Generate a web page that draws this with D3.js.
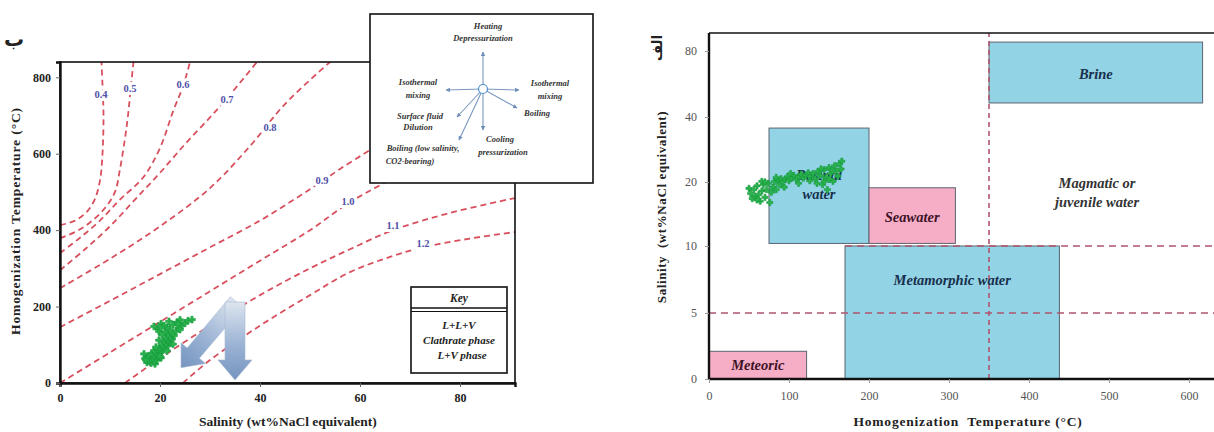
<!DOCTYPE html>
<html><head><meta charset="utf-8">
<script src="https://cdn.jsdelivr.net/npm/d3@7"></script>
<style>body{margin:0;background:#fff} svg{display:block}</style>
</head><body>
<script>
// ---------- DATA ----------
const leftXTicks = [0, 20, 40, 60, 80];
const leftYTicks = [0, 200, 400, 600, 800];
const rightXTicks = [0, 100, 200, 300, 400, 500, 600];
const rightYTicks = [0, 5, 10, 20, 40, 80];

const isoLabels = ["0.4", "0.5", "0.6", "0.7", "0.8", "0.9", "1.0", "1.1", "1.2"];
// isodensity curves: [salinity, temperature]
const isoCurves = [
  [[0,413],[3,425],[5.5,450],[7,482],[8,530],[8.5,600],[8.7,700],[8.5,780],[8.3,840]],
  [[0,379],[3,395],[6,420],[9,458],[11,500],[12,560],[13,640],[13.6,700],[14.1,766],[14.7,840]],
  [[0,340],[4,380],[8,425],[12,480],[16.7,539],[20,615],[22.7,714],[24.6,776],[26,840]],
  [[0,295],[5,350],[10,410],[15,480],[20,550],[25,625],[30,695],[33.4,745],[39.4,840]],
  [[0,248],[10,325],[20,410],[30,510],[38,620],[45,730],[54,840]],
  [[0,146],[10,215],[20,285],[30,355],[40,425],[48,490],[52.4,528],[56,560],[62,610],[70,680]],
  [[0,0],[10,80],[20,160],[30,240],[40,320],[50,400],[57.6,470],[65,525],[75,600]],
  [[13,0],[20,65],[30,150],[40,230],[50,300],[58,350],[66.6,400],[78,445],[91,484]],
  [[24.6,0],[30,60],[40,150],[50,230],[58,290],[66,330],[72.6,355],[82,378],[91,395]]
];
const isoLabelPos = [[8.2,752],[14,768],[24.6,778],[33.4,740],[42,667],[52.4,528],[57.6,473],[66.6,408],[72.6,361]];

// fluid inclusions: [homogenization temperature °C, salinity wt% NaCl eq.]
const inclusions = [
  [50,19.0],[52,18.2],[54,17.4],[56,18.8],[58,17.8],[60,19.4],[62,18.0],[64,17.0],[66,18.6],[68,19.6],
  [70,17.6],[72,18.8],[74,19.8],[76,16.8],[78,18.4],[80,19.2],[82,20.2],[84,18.8],[86,20.6],[88,19.6],
  [90,21.0],[92,20.0],[95,20.8],[98,21.6],[100,20.4],[103,21.2],[106,22.0],[109,20.8],[112,21.6],[115,22.4],
  [118,21.2],[121,22.0],[124,22.8],[127,21.6],[130,22.6],[133,21.0],[136,23.2],[139,22.0],[142,19.6],[144,23.8],
  [146,21.4],[148,18.8],[150,24.4],[152,22.6],[155,20.2],[157,25.0],[159,23.4],[161,21.8],[163,25.6],[165,24.0],
  [166,26.4],[140,24.0],[135,19.8],[60,17.2],[66,20.2],[94,19.2],[102,22.6],[112,19.8],[126,20.4],[150,20.8],
  [154,23.6],[144,20.2],[70,20.0],[84,21.4]
];

// trend arrows (left panel): [salinity, temperature] tail -> tip
const trendArrows = [
  {tail:[35.3,212], tip:[24.2,40]},
  {tail:[35.0,212], tip:[35.0,8]}
];

// fluid fields (right panel): temperature range, salinity range
const fields = [
  {name:["Meteoric"], t:[0,122], s:[0,2.1], kind:"pink", label:[61,1.05]},
  {name:["Basinal","water"], t:[75,200], s:[10.4,36.6], kind:"blue", label:[137.5,19.6]},
  {name:["Seawater"], t:[200,308], s:[10.4,19.1], kind:"pink", label:[254,14.5]},
  {name:["Brine"], t:[350,617], s:[48.5,85.4], kind:"blue", label:[483.5,66]},
  {name:["Metamorphic water"], t:[170,438], s:[0,10], kind:"blue", label:[304,7.5]}
];
const fieldText = {name:["Magmatic or","juvenile water"], label:[485,18.4]};
const dashedT = [{t:350, s:[0,91]}];
const dashedS = [{s:5, t:[0,640]}, {s:10, t:[170,640]}];

// ---------- DRAW ----------
const W = 1214, H = 432;
const svg = d3.select("body").append("svg").attr("width", W).attr("height", H);
const serif = "Liberation Serif, Times New Roman, DejaVu Serif, serif";
const defs = svg.append("defs");

// ===== LEFT PANEL =====
const L = {x0:60, x1:515, y0:62, y1:383};
const xL = d3.scaleLinear().domain([0,91]).range([L.x0, L.x1]);
const yL = d3.scaleLinear().domain([0,840]).range([L.y1, L.y0]);

defs.append("clipPath").attr("id","clipL").append("rect")
  .attr("x",L.x0).attr("y",L.y0).attr("width",L.x1-L.x0).attr("height",L.y1-L.y0);

const gL = svg.append("g");
const curveGen = d3.line().x(d=>xL(d[0])).y(d=>yL(d[1])).curve(d3.curveCatmullRom.alpha(0.5));
gL.append("g").attr("clip-path","url(#clipL)").selectAll("path").data(isoCurves).join("path")
  .attr("d", curveGen).attr("fill","none").attr("stroke","#d8505e").attr("stroke-width",1.8)
  .attr("stroke-dasharray","6,4");

gL.selectAll("text.iso").data(isoLabels).join("text").attr("class","iso")
  .attr("x",(d,i)=>xL(isoLabelPos[i][0])).attr("y",(d,i)=>yL(isoLabelPos[i][1]))
  .attr("text-anchor","middle").attr("dominant-baseline","middle")
  .style("font-family",serif).attr("font-size",10.5).attr("font-weight","bold")
  .attr("fill","#5050a8").attr("stroke","#fff").attr("stroke-width",6)
  .attr("paint-order","stroke").text(d=>d);

// arrows
function arrowPath(p0, p1, sw, hw, hl){
  const dx=p1[0]-p0[0], dy=p1[1]-p0[1], len=Math.hypot(dx,dy);
  const ux=dx/len, uy=dy/len, nx=-uy, ny=ux;
  const bx=p1[0]-ux*hl, by=p1[1]-uy*hl;
  const pts=[[p0[0]+nx*sw,p0[1]+ny*sw],[bx+nx*sw,by+ny*sw],[bx+nx*hw,by+ny*hw],p1,
    [bx-nx*hw,by-ny*hw],[bx-nx*sw,by-ny*sw],[p0[0]-nx*sw,p0[1]-ny*sw]];
  return "M"+pts.map(p=>p.join(",")).join("L")+"Z";
}
trendArrows.forEach((a,i)=>{
  const p0=[xL(a.tail[0]),yL(a.tail[1])], p1=[xL(a.tip[0]),yL(a.tip[1])];
  const g = defs.append("linearGradient").attr("id","ag"+i).attr("gradientUnits","userSpaceOnUse")
    .attr("x1",p0[0]).attr("y1",p0[1]).attr("x2",p1[0]).attr("y2",p1[1]);
  g.append("stop").attr("offset","0").attr("stop-color","#dde5ef");
  g.append("stop").attr("offset","0.55").attr("stop-color","#9bb3d4");
  g.append("stop").attr("offset","1").attr("stop-color","#7594bf");
  gL.append("path").attr("d",arrowPath(p0,p1,i?10:8,i?17:16,i?20:19))
    .attr("fill","url(#ag"+i+")").attr("stroke","#a9bbd3").attr("stroke-width",0.6);
});

// inclusions left
gL.selectAll("path.incl").data(inclusions).join("path").attr("class","incl")
  .attr("transform",d=>`translate(${xL(d[1])},${yL(d[0])})`)
  .attr("d",d3.symbol(d3.symbolCross,26)).attr("fill","#2ab24e").attr("stroke","#12973a").attr("stroke-width",0.5);

// frame and axes
gL.append("rect").attr("x",L.x0).attr("y",L.y0).attr("width",L.x1-L.x0).attr("height",L.y1-L.y0)
  .attr("fill","none").attr("stroke","#111").attr("stroke-width",1.6);
const axL = gL.append("g").attr("transform",`translate(0,${L.y1})`)
  .call(d3.axisBottom(xL).tickValues(leftXTicks).tickSize(4).tickPadding(6));
const ayL = gL.append("g").attr("transform",`translate(${L.x0},0)`)
  .call(d3.axisLeft(yL).tickValues(leftYTicks).tickSize(4).tickPadding(5));
[axL,ayL].forEach(a=>{
  a.select(".domain").attr("stroke","#111").attr("stroke-width",2.4);
  a.selectAll(".tick line").attr("stroke","#666");
  a.selectAll("text").style("font-family",serif).attr("font-size",12).attr("font-weight","bold").attr("fill","#222");
});
gL.append("text").attr("x",288).attr("y",426).attr("text-anchor","middle")
  .style("font-family",serif).attr("font-size",13.5).attr("font-weight","bold").attr("fill","#222")
  .text("Salinity (wt%NaCl equivalent)");
gL.append("text").attr("transform","translate(20,221) rotate(-90)").attr("text-anchor","middle")
  .style("font-family",serif).attr("font-size",13.5).attr("font-weight","bold").attr("fill","#222")
  .attr("letter-spacing",0.9)
  .text("Homogenization Temperature (°C)");
gL.append("text").attr("x",14).attr("y",46).attr("text-anchor","middle")
  .style("font-family","DejaVu Sans, sans-serif").attr("font-size",20).attr("font-weight","bold").attr("fill","#222").text("ب");

// key box
const key = gL.append("g").attr("transform","translate(411,287)");
key.append("rect").attr("width",96).attr("height",86).attr("fill","#fff").attr("stroke","#111").attr("stroke-width",1.6);
key.append("line").attr("x1",0).attr("x2",96).attr("y1",21).attr("y2",21).attr("stroke","#111").attr("stroke-width",1.4);
key.append("line").attr("x1",0).attr("x2",96).attr("y1",24.5).attr("y2",24.5).attr("stroke","#111").attr("stroke-width",1.2);
key.append("text").attr("x",48).attr("y",15).attr("text-anchor","middle").style("font-family",serif)
  .attr("font-size",11.5).attr("font-weight","bold").attr("font-style","italic").attr("fill","#222").text("Key");
[["L+L+V",42],["Clathrate phase",57],["L+V phase",72]].forEach(([t,y],i)=>{
  key.append("text").attr("x",i==2?51:48).attr("y",y).attr("text-anchor","middle").style("font-family",serif)
    .attr("font-size",11).attr("font-weight","bold").attr("font-style","italic").attr("fill","#222").text(t);
});

// inset (process diagram)
const ins = svg.append("g").attr("transform","translate(370,14)");
ins.append("rect").attr("width",223).attr("height",169).attr("fill","#fff").attr("stroke","#111").attr("stroke-width",1.6);
const c=[113,75];
const rays=[[113,38],[76,76],[149,76],[113,116],[147,94],[87,103],[89,126]];
const mk = defs.append("marker").attr("id","ah").attr("viewBox","0 0 10 10").attr("refX",9).attr("refY",5)
  .attr("markerWidth",4).attr("markerHeight",4).attr("orient","auto");
mk.append("path").attr("d","M0,0L10,5L0,10Z").attr("fill","#6f8fb8");
ins.selectAll("line.ray").data(rays).join("line").attr("class","ray")
  .attr("x1",c[0]).attr("y1",c[1]).attr("x2",d=>d[0]).attr("y2",d=>d[1])
  .attr("stroke","#7a98c0").attr("stroke-width",1.1).attr("marker-end","url(#ah)");
ins.append("circle").attr("cx",c[0]).attr("cy",c[1]).attr("r",4.5).attr("fill","#fff").attr("stroke","#4f8fd0").attr("stroke-width",1.2);
const insT=[["Heating",118,13],["Depressurization",113,25],["Isothermal",48,69],["mixing",48,82],
  ["Isothermal",180,70],["mixing",180,83],["Boiling",167,100],["Surface fluid",50,103],["Dilution",48,114],
  ["Cooling",130,126],["pressurization",133,139],["Boiling (low salinity,",53,135],["CO2-bearing)",40,148]];
ins.selectAll("text").data(insT).join("text").attr("x",d=>d[1]).attr("y",d=>d[2])
  .attr("text-anchor","middle").attr("dominant-baseline","middle").style("font-family",serif)
  .attr("font-size",8.5).attr("font-style","italic").attr("font-weight","bold").attr("fill","#333").text(d=>d[0]);

// ===== RIGHT PANEL =====
const R = {x0:709, x1:1216, y0:33, y1:379};
const xR = d3.scaleLinear().domain([0,634]).range([R.x0, R.x0+634*0.8]);
const yR = d3.scaleLinear().domain(rightYTicks).range([379,313,246,182,117,51]);
const gR = svg.append("g");
const fillC = {pink:"#f6adc6", blue:"#93d3e6"};
const textC = {pink:"#3d1426", blue:"#17304c"};
gR.selectAll("rect.field").data(fields).join("rect").attr("class","field")
  .attr("x",d=>xR(d.t[0])).attr("width",d=>xR(d.t[1])-xR(d.t[0]))
  .attr("y",d=>yR(d.s[1])).attr("height",d=>yR(d.s[0])-yR(d.s[1]))
  .attr("fill",d=>fillC[d.kind]).attr("stroke","#5a6570").attr("stroke-width",1);

gR.selectAll("line.dt").data(dashedT).join("line").attr("class","dt")
  .attr("x1",d=>xR(d.t)).attr("x2",d=>xR(d.t)).attr("y1",d=>yR(d.s[0])).attr("y2",R.y0)
  .attr("stroke","#b0556e").attr("stroke-width",1.6).attr("stroke-dasharray","5,4");
gR.selectAll("line.ds").data(dashedS).join("line").attr("class","ds")
  .attr("x1",d=>xR(d.t[0])).attr("x2",d=>xR(d.t[1])).attr("y1",d=>yR(d.s)).attr("y2",d=>yR(d.s))
  .attr("stroke","#b0556e").attr("stroke-width",1.6).attr("stroke-dasharray","7,5");

fields.concat([Object.assign({kind:"none"},fieldText)]).forEach(f=>{
  const t = gR.append("text").attr("x",xR(f.label[0])).attr("y",yR(f.label[1]))
    .attr("text-anchor","middle").style("font-family",serif).attr("font-size",14.5)
    .attr("font-weight","bold").attr("font-style","italic")
    .attr("fill",f.kind==="none"?"#333":textC[f.kind]);
  const n=f.name.length;
  f.name.forEach((s,i)=>t.append("tspan").attr("x",xR(f.label[0]))
    .attr("dy",i===0?((-(n-1)/2)*19+5):19).text(s));
});

// inclusions right
gR.selectAll("path.incl").data(inclusions).join("path").attr("class","incl")
  .attr("transform",d=>`translate(${xR(d[0])},${yR(d[1])})`)
  .attr("d",d3.symbol(d3.symbolCross,22)).attr("fill","#2ab24e").attr("stroke","#12973a").attr("stroke-width",0.5);

// axes right
gR.append("line").attr("x1",R.x0).attr("x2",R.x1).attr("y1",R.y0).attr("y2",R.y0).attr("stroke","#111").attr("stroke-width",1.6);
const axR = gR.append("g").attr("transform",`translate(0,${R.y1})`)
  .call(d3.axisBottom(xR).tickValues(rightXTicks).tickSize(4).tickPadding(8));
const ayR = gR.append("g").attr("transform",`translate(${R.x0},0)`)
  .call(d3.axisLeft(yR).tickValues(rightYTicks).tickSize(4).tickPadding(8));
axR.select(".domain").attr("d",`M${R.x0},0H${R.x1}`);
ayR.select(".domain").attr("d",`M0,${R.y1}V${R.y0}`);
[axR,ayR].forEach(a=>{
  a.select(".domain").attr("stroke","#111").attr("stroke-width",2.4);
  a.selectAll(".tick line").attr("stroke","#999");
  a.selectAll("text").style("font-family",serif).attr("font-size",12).attr("fill","#555");
});
gR.append("text").attr("x",968).attr("y",426).attr("text-anchor","middle")
  .style("font-family",serif).attr("font-size",13.5).attr("font-weight","bold").attr("fill","#222")
  .attr("letter-spacing",0.8).attr("xml:space","preserve")
  .text("Homogenization  Temperature (°C)");
gR.append("text").attr("transform","translate(666,207) rotate(-90)").attr("text-anchor","middle")
  .style("font-family",serif).attr("font-size",13).attr("font-weight","bold").attr("fill","#222")
  .attr("letter-spacing",0.6).attr("xml:space","preserve")
  .text("Salinity  (wt%NaCl equivalent)");
gR.append("text").attr("transform","translate(662,48) rotate(-90)").attr("text-anchor","middle")
  .style("font-family","DejaVu Sans, sans-serif").attr("font-size",14).attr("font-weight","bold").attr("fill","#222").text("الف");
</script>
</body></html>
